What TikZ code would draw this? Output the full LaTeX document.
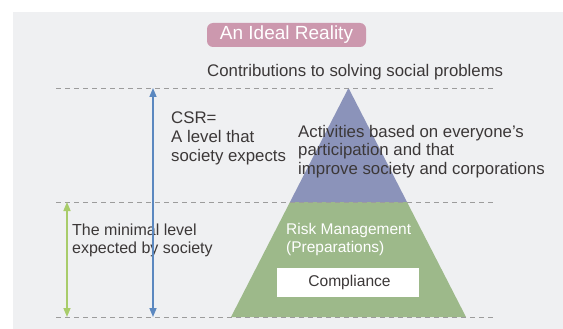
\documentclass[tikz,border=0pt]{standalone}
\usepackage{fontspec}
\setmainfont{Liberation Sans}
\usetikzlibrary{arrows.meta}
\definecolor{panel}{HTML}{EFF0F2}
\definecolor{pinkbox}{HTML}{CC98AE}
\definecolor{pyrblue}{HTML}{8B93BA}
\definecolor{pyrgreen}{HTML}{9DB98A}
\definecolor{arrowblue}{HTML}{5B88C0}
\definecolor{arrowgreen}{HTML}{A8CC6A}
\definecolor{dashgray}{HTML}{9C9C9C}
\definecolor{textgray}{HTML}{3C3838}
\tikzset{
  txt/.style={inner sep=0pt,anchor=north west,align=left,text=textgray,font=\fontsize{16.8}{18.6}\selectfont},
  levelarrow/.style={line width=1.5pt,{Triangle[width=7pt,length=9pt]}-{Triangle[width=7pt,length=9pt]}}
}
\begin{document}
\begin{tikzpicture}[x=1pt,y=-1pt]
\useasboundingbox (0,0) rectangle (563,329);
\fill[panel] (13,12) rectangle (563,329);
\fill[pyrblue] (348.5,88) -- (290,202) -- (407,202) -- cycle;
\fill[pyrgreen] (290,202) -- (231,317) -- (466,317) -- (407,202) -- cycle;
\foreach \y in {88,202,317}
{
    \draw[dashgray,line width=0.8pt,dash pattern=on 5pt off 4pt] (56,\y) -- (493,\y);
}
\node[fill=pinkbox,rounded corners=6pt,minimum width=159pt,minimum height=24pt,inner sep=0pt,text=white,font=\fontsize{19}{21}\selectfont] (title) at (286.5,35) {An Ideal Reality};
\node[txt,anchor=base west] (contrib) at (207,77) {Contributions to solving social problems};
\node[txt] (csr) at (171,112) {CSR=\\A level that\\society expects};
\node[txt] (activities) at (298,125) {Activities based on everyone’s\\participation and that\\improve society and corporations};
\node[txt,font=\fontsize{16}{18}\selectfont] (minimal) at (72,224) {The minimal level\\expected by society};
\node[txt,text=white,font=\fontsize{15.5}{18.5}\selectfont] (risk) at (286,223) {Risk Management\\(Preparations)};
\node[fill=white,minimum width=142pt,minimum height=29pt,inner sep=0pt,text=textgray,font=\fontsize{15.6}{18}\selectfont] (compliance) at (348,282.5) {\hspace{3pt}Compliance};
\coordinate (csrtop) at (153,88);
\coordinate (csrbot) at (153,317);
\coordinate (mintop) at (67,202);
\coordinate (minbot) at (67,317);
\draw[levelarrow,arrowblue] (csrbot) -- (csrtop);
\draw[levelarrow,arrowgreen] (minbot) -- (mintop);
\end{tikzpicture}
\end{document}
